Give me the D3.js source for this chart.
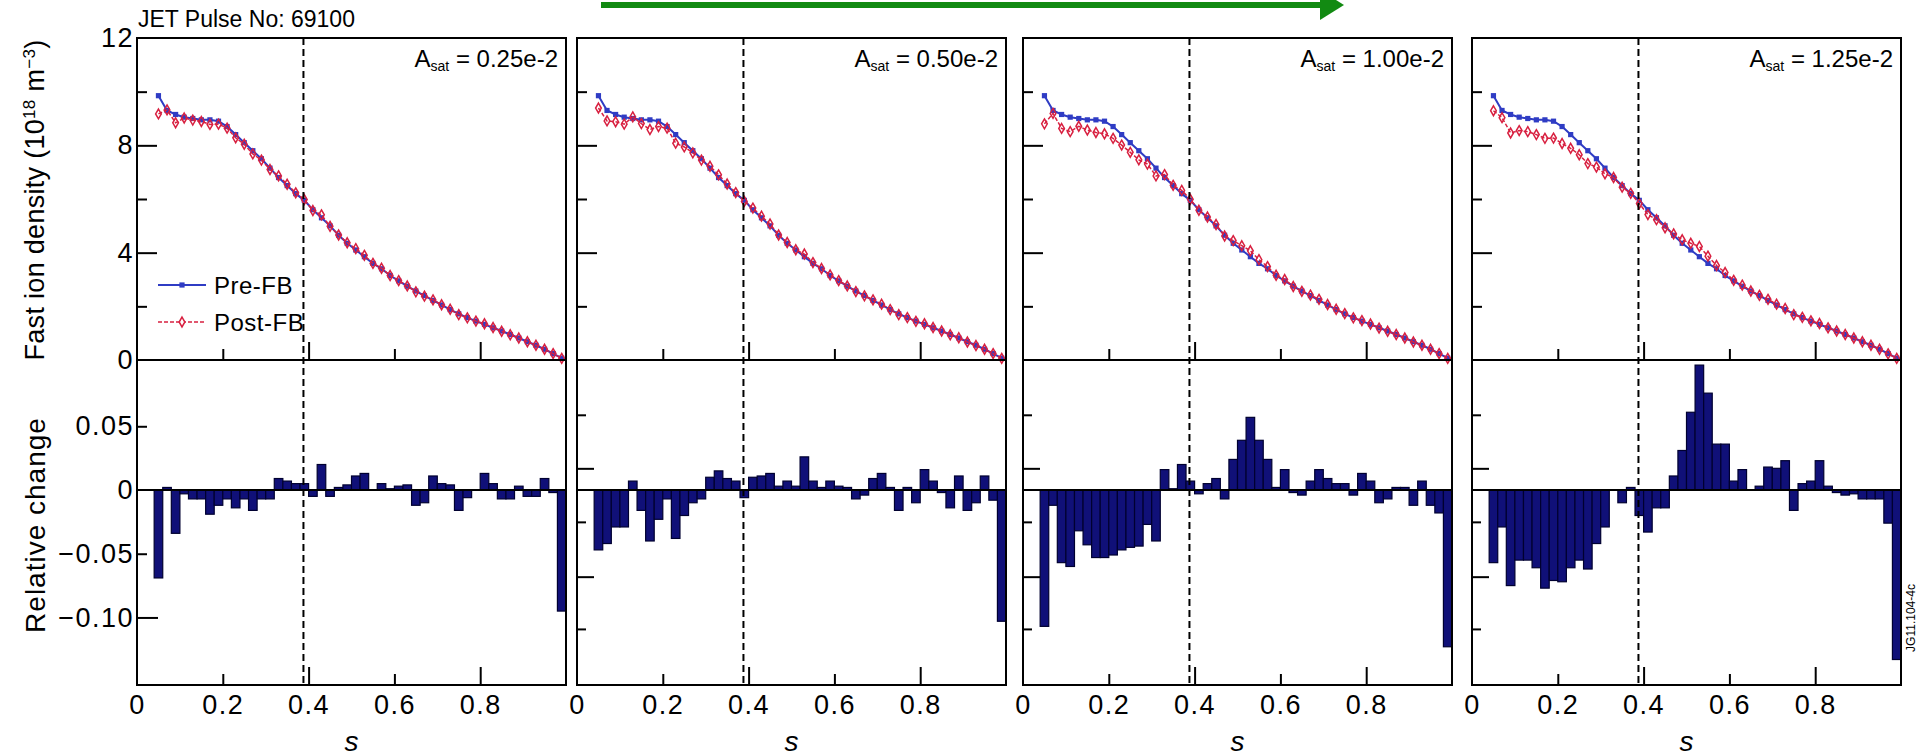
<!DOCTYPE html>
<html>
<head>
<meta charset="utf-8">
<script src="https://cdn.jsdelivr.net/npm/d3@7"></script>
<style>
  body { margin: 0; background: #fff; }
  svg text { font-family: "Liberation Sans", Arial, sans-serif; fill: #000; }
</style>
</head>
<body>
<div id="container"></div>
<script>
/* s grid: centres of the 0.02 wide bins */
const sValues = [0.05, 0.07, 0.09, 0.11, 0.13, 0.15, 0.17, 0.19, 0.21, 0.23, 0.25, 0.27, 0.29, 0.31, 0.33, 0.35,
  0.37, 0.39, 0.41, 0.43, 0.45, 0.47, 0.49, 0.51, 0.53, 0.55, 0.57, 0.59, 0.61, 0.63, 0.65, 0.67,
  0.69, 0.71, 0.73, 0.75, 0.77, 0.79, 0.81, 0.83, 0.85, 0.87, 0.89, 0.91, 0.93, 0.95, 0.97, 0.99];
const binWidth = 0.02;

/* labels of the four panels */
const aSatLabels = ["0.25e-2", "0.50e-2", "1.00e-2", "1.25e-2"];

/* fast ion density before the fishbone (10^18 m^-3), same in all panels */
const preFB = [9.85, 9.3, 9.15, 9.05, 9.0, 8.95, 8.95, 8.9, 8.7, 8.4, 8.1, 7.8, 7.5, 7.15, 6.8, 6.5,
  6.2, 5.95, 5.6, 5.3, 5.0, 4.65, 4.35, 4.1, 3.85, 3.6, 3.4, 3.15, 2.95, 2.75, 2.57, 2.4,
  2.22, 2.05, 1.88, 1.72, 1.58, 1.45, 1.33, 1.2, 1.08, 0.95, 0.82, 0.68, 0.55, 0.4, 0.24, 0.07];

/* fast ion density after the fishbone, one list per panel */
const postFB1 = [9.17, 9.32, 8.84, 9.02, 8.94, 8.89, 8.78, 8.79, 8.64, 8.28, 8.04, 7.68, 7.45, 7.10, 6.86, 6.55,
  6.23, 5.98, 5.57, 5.41, 4.98, 4.66, 4.37, 4.15, 3.90, 3.60, 3.42, 3.15, 2.96, 2.76, 2.54, 2.38,
  2.24, 2.06, 1.89, 1.69, 1.57, 1.45, 1.35, 1.21, 1.07, 0.94, 0.82, 0.68, 0.55, 0.40, 0.24, 0.06];
const postFB2 = [9.39, 8.91, 8.88, 8.79, 9.06, 8.81, 8.59, 8.70, 8.64, 8.08, 7.94, 7.72, 7.45, 7.22, 6.90, 6.56,
  6.24, 5.91, 5.66, 5.36, 5.07, 4.66, 4.38, 4.11, 3.95, 3.63, 3.41, 3.17, 2.96, 2.76, 2.55, 2.39,
  2.24, 2.08, 1.88, 1.69, 1.58, 1.44, 1.35, 1.21, 1.08, 0.94, 0.83, 0.67, 0.54, 0.40, 0.24, 0.06];
const postFB3 = [8.80, 9.19, 8.63, 8.51, 8.71, 8.57, 8.48, 8.43, 8.26, 8.01, 7.74, 7.46, 7.30, 6.86, 6.91, 6.51,
  6.32, 5.99, 5.58, 5.33, 5.05, 4.62, 4.45, 4.26, 4.07, 3.74, 3.48, 3.16, 3.00, 2.74, 2.56, 2.42,
  2.26, 2.07, 1.89, 1.73, 1.57, 1.47, 1.34, 1.19, 1.07, 0.95, 0.82, 0.67, 0.55, 0.40, 0.24, 0.06];
const postFB4 = [9.29, 9.03, 8.46, 8.55, 8.51, 8.40, 8.26, 8.27, 8.07, 7.89, 7.65, 7.32, 7.19, 6.94, 6.80, 6.44,
  6.21, 5.83, 5.42, 5.23, 4.93, 4.70, 4.48, 4.35, 4.23, 3.87, 3.52, 3.26, 2.97, 2.79, 2.57, 2.41,
  2.26, 2.08, 1.92, 1.69, 1.59, 1.46, 1.36, 1.20, 1.08, 0.95, 0.82, 0.68, 0.55, 0.40, 0.23, 0.06];

/* relative change, one list per panel */
const rel1 = [-0.069, 0.002, -0.034, -0.003, -0.007, -0.007, -0.019, -0.012, -0.007, -0.014, -0.007, -0.016,
  -0.007, -0.007, 0.009, 0.007, 0.005, 0.005, -0.005, 0.020, -0.005, 0.002, 0.004, 0.011,
  0.013, 0.000, 0.005, 0.001, 0.003, 0.004, -0.012, -0.010, 0.011, 0.005, 0.004, -0.016,
  -0.006, 0.000, 0.013, 0.005, -0.007, -0.007, 0.003, -0.005, -0.005, 0.009, -0.002, -0.095];
const rel2 = [-0.047, -0.042, -0.029, -0.029, 0.007, -0.016, -0.040, -0.023, -0.007, -0.038, -0.020, -0.010,
  -0.007, 0.010, 0.015, 0.009, 0.007, -0.006, 0.010, 0.011, 0.013, 0.003, 0.007, 0.003,
  0.026, 0.007, 0.002, 0.007, 0.003, 0.002, -0.007, -0.004, 0.009, 0.013, 0.002, -0.016,
  0.002, -0.010, 0.016, 0.007, -0.002, -0.014, 0.011, -0.016, -0.010, 0.011, -0.008, -0.103];
const rel3 = [-0.107, -0.012, -0.057, -0.060, -0.032, -0.043, -0.053, -0.053, -0.051, -0.047, -0.045, -0.044,
  -0.027, -0.040, 0.016, 0.001, 0.020, 0.007, -0.003, 0.005, 0.009, -0.007, 0.024, 0.039,
  0.057, 0.039, 0.024, 0.002, 0.016, -0.002, -0.004, 0.007, 0.016, 0.009, 0.005, 0.005,
  -0.004, 0.013, 0.007, -0.010, -0.007, 0.002, 0.002, -0.012, 0.007, -0.012, -0.018, -0.123];
const rel4 = [-0.057, -0.029, -0.075, -0.055, -0.055, -0.061, -0.077, -0.071, -0.072, -0.061, -0.055, -0.062,
  -0.042, -0.029, 0.000, -0.010, 0.002, -0.020, -0.033, -0.014, -0.014, 0.011, 0.031, 0.061,
  0.098, 0.076, 0.036, 0.036, 0.007, 0.016, 0.000, 0.003, 0.018, 0.017, 0.023, -0.016,
  0.005, 0.007, 0.023, 0.003, -0.002, -0.004, -0.003, -0.007, -0.007, -0.007, -0.026, -0.133];

/* position of the q=1 surface (dashed line) */
const sQ1 = 0.388;

/* tick values */
const xLabelTicks = [0, 0.2, 0.4, 0.6, 0.8];
const xMajorTicks = [0.4, 0.8];
const xMinorTicks = [0.2, 0.6];
const densLabelTicks = [12, 8, 4, 0];
const densMajorTicks = [8, 4];
const densMinorTicks = [10, 6, 2];
const relLabelTicks = [0.05, 0, -0.05, -0.10];
const relMajorTicks = [-0.10];
const relMinorTicks = [0.05, -0.05];
/* panels 2-4 carry their own (shifted) tick marks on the lower axis */
const relInnerMajorTicks = [0.017, -0.068];
const relInnerMinorTicks = [0.059, -0.025, -0.109];

const panels = aSatLabels.map((lab, i) => ({
  label: lab,
  post: [postFB1, postFB2, postFB3, postFB4][i],
  rel: [rel1, rel2, rel3, rel4][i]
}));

/* Mise en page */
const W = 1927, H = 756;
const panelLeft = [137, 577, 1023, 1472], panelWidth = 429;
const plotTop = 38, plotMid = 360, plotBottom = 685;
const preColor = "#2f3cc4", postColor = "#d82040", barColor = "#101078";

const svg = d3.select("#container").append("svg")
  .attr("width", W)
  .attr("height", H);

const yTop = d3.scaleLinear().domain([0, 12]).range([plotMid, plotTop]);
const yBot = d3.scaleLinear().domain([-0.153, 0.102]).range([plotBottom, plotMid]);

function cleanAxis(g) {
  g.select(".domain").remove();
  g.selectAll(".tick line").attr("stroke", "#000").attr("stroke-width", 2);
  g.selectAll(".tick text")
    .style("font-family", "'Liberation Sans', Arial, sans-serif")
    .style("font-size", "27px")
    .style("letter-spacing", "1.5px")
    .attr("fill", "#000");
}

panels.forEach(function(p, i) {
  const L = panelLeft[i];
  const x = d3.scaleLinear().domain([0, 1]).range([L, L + panelWidth]);
  const g = svg.append("g");
  const rows = sValues.map((s, j) => ({ s: s, pre: preFB[j], post: p.post[j], rel: p.rel[j] }));

  /* bars of relative change */
  g.append("g").selectAll("rect")
    .data(rows)
    .join("rect")
      .attr("x", d => x(d.s - binWidth / 2))
      .attr("width", d => x(d.s + binWidth / 2) - x(d.s - binWidth / 2))
      .attr("y", d => yBot(Math.max(0, d.rel)))
      .attr("height", d => Math.abs(yBot(d.rel) - yBot(0)))
      .attr("fill", barColor)
      .attr("stroke", "#000030")
      .attr("stroke-width", 1.2);

  g.append("line")
    .attr("x1", x(0)).attr("x2", x(1))
    .attr("y1", yBot(0)).attr("y2", yBot(0))
    .attr("stroke", "#000").attr("stroke-width", 2);

  /* density profiles */
  const linePre = d3.line().x(d => x(d.s)).y(d => yTop(d.pre));
  const linePost = d3.line().x(d => x(d.s)).y(d => yTop(d.post));

  g.append("path").datum(rows)
    .attr("d", linePre)
    .attr("fill", "none").attr("stroke", preColor).attr("stroke-width", 2);
  g.append("g").selectAll("rect")
    .data(rows)
    .join("rect")
      .attr("x", d => x(d.s) - 2.6).attr("y", d => yTop(d.pre) - 2.6)
      .attr("width", 5.2).attr("height", 5.2)
      .attr("fill", preColor);

  g.append("path").datum(rows)
    .attr("d", linePost)
    .attr("fill", "none").attr("stroke", postColor).attr("stroke-width", 1.5)
    .attr("stroke-dasharray", "4,2");
  g.append("g").selectAll("path")
    .data(rows)
    .join("path")
      .attr("transform", d => "translate(" + x(d.s) + "," + yTop(d.post) + ")")
      .attr("d", d3.symbol(d3.symbolDiamond, 28))
      .attr("fill", "none").attr("stroke", postColor).attr("stroke-width", 1.5);

  /* dashed line */
  g.append("line")
    .attr("x1", x(sQ1)).attr("x2", x(sQ1))
    .attr("y1", plotTop).attr("y2", plotBottom)
    .attr("stroke", "#000").attr("stroke-width", 2)
    .attr("stroke-dasharray", "7,4");

  /* frames */
  g.append("rect")
    .attr("x", x(0)).attr("y", plotTop)
    .attr("width", x(1) - x(0)).attr("height", plotMid - plotTop)
    .attr("fill", "none").attr("stroke", "#000").attr("stroke-width", 2);
  g.append("rect")
    .attr("x", x(0)).attr("y", plotMid)
    .attr("width", x(1) - x(0)).attr("height", plotBottom - plotMid)
    .attr("fill", "none").attr("stroke", "#000").attr("stroke-width", 2);

  /* x ticks, pointing inwards, on both panels */
  [plotMid, plotBottom].forEach(function(yy) {
    g.append("g").attr("transform", "translate(0," + yy + ")")
      .call(d3.axisBottom(x).tickValues(xMajorTicks).tickSize(-18).tickFormat(""))
      .call(cleanAxis);
    g.append("g").attr("transform", "translate(0," + yy + ")")
      .call(d3.axisBottom(x).tickValues(xMinorTicks).tickSize(-11).tickFormat(""))
      .call(cleanAxis);
  });
  g.append("g").attr("transform", "translate(0," + plotBottom + ")")
    .call(d3.axisBottom(x).tickValues(xLabelTicks).tickSize(0).tickPadding(10)
      .tickFormat(d => d === 0 ? "0" : d3.format(".1f")(d)))
    .call(cleanAxis);

  /* y ticks */
  g.append("g").attr("transform", "translate(" + L + ",0)")
    .call(d3.axisLeft(yTop).tickValues(densMajorTicks).tickSize(-20).tickFormat(""))
    .call(cleanAxis);
  g.append("g").attr("transform", "translate(" + L + ",0)")
    .call(d3.axisLeft(yTop).tickValues(densMinorTicks).tickSize(-10).tickFormat(""))
    .call(cleanAxis);

  if (i === 0) {
    g.append("g").attr("transform", "translate(" + L + ",0)")
      .call(d3.axisLeft(yBot).tickValues(relMajorTicks).tickSize(-21).tickFormat(""))
      .call(cleanAxis);
    g.append("g").attr("transform", "translate(" + L + ",0)")
      .call(d3.axisLeft(yBot).tickValues(relMinorTicks).tickSize(-10).tickFormat(""))
      .call(cleanAxis);
    g.append("g").attr("transform", "translate(" + L + ",0)")
      .call(d3.axisLeft(yTop).tickValues(densLabelTicks).tickSize(0).tickPadding(3)
        .tickFormat(d3.format("d")))
      .call(cleanAxis);
    g.append("g").attr("transform", "translate(" + L + ",0)")
      .call(d3.axisLeft(yBot).tickValues(relLabelTicks).tickSize(0).tickPadding(3)
        .tickFormat(d => d === 0 ? "0" : d3.format(".2f")(d)))
      .call(cleanAxis);
  } else {
    g.append("g").attr("transform", "translate(" + L + ",0)")
      .call(d3.axisLeft(yBot).tickValues(relInnerMajorTicks).tickSize(-17).tickFormat(""))
      .call(cleanAxis);
    g.append("g").attr("transform", "translate(" + L + ",0)")
      .call(d3.axisLeft(yBot).tickValues(relInnerMinorTicks).tickSize(-9).tickFormat(""))
      .call(cleanAxis);
  }

  /* A_sat label */
  const t = g.append("text")
    .attr("x", x(1) - 8).attr("y", 67)
    .attr("text-anchor", "end")
    .style("font-size", "24px");
  t.append("tspan").text("A");
  t.append("tspan").attr("baseline-shift", "-25%").style("font-size", "14px").text("sat");
  t.append("tspan").text(" = " + p.label);

  /* x label */
  g.append("text")
    .attr("x", x(0.5)).attr("y", 751)
    .attr("text-anchor", "middle")
    .style("font-size", "28px")
    .style("font-style", "italic")
    .text("s");
});

/* legend */
const legend = svg.append("g");
const lx = d3.scaleLinear().domain([0, 1]).range([158, 206]);
legend.append("line")
  .attr("x1", lx(0)).attr("x2", lx(1)).attr("y1", 285).attr("y2", 285)
  .attr("stroke", preColor).attr("stroke-width", 2);
legend.append("rect")
  .attr("x", lx(0.5) - 2.6).attr("y", 285 - 2.6).attr("width", 5.2).attr("height", 5.2)
  .attr("fill", preColor);
legend.append("text")
  .attr("x", 214).attr("y", 294)
  .style("font-size", "24px").style("letter-spacing", "0.5px")
  .text("Pre-FB");
legend.append("line")
  .attr("x1", lx(0)).attr("x2", lx(1)).attr("y1", 322).attr("y2", 322)
  .attr("stroke", postColor).attr("stroke-width", 1.5).attr("stroke-dasharray", "4,2");
legend.append("path")
  .attr("transform", "translate(" + lx(0.5) + ",322)")
  .attr("d", d3.symbol(d3.symbolDiamond, 28))
  .attr("fill", "#fff").attr("stroke", postColor).attr("stroke-width", 1.5);
legend.append("text")
  .attr("x", 214).attr("y", 331)
  .style("font-size", "24px").style("letter-spacing", "0.5px")
  .text("Post-FB");

/* titles */
svg.append("text")
  .attr("x", 138).attr("y", 27)
  .style("font-size", "23px")
  .text("JET Pulse No: 69100");

const yt = svg.append("text")
  .attr("transform", "translate(44,200) rotate(-90)")
  .attr("text-anchor", "middle")
  .style("font-size", "27px").style("letter-spacing", "0.3px");
yt.append("tspan").text("Fast ion density (10");
yt.append("tspan").attr("baseline-shift", "super").style("font-size", "17px").text("18");
yt.append("tspan").text(" m");
yt.append("tspan").attr("baseline-shift", "super").style("font-size", "17px").text("\u22123");
yt.append("tspan").text(")");

svg.append("text")
  .attr("transform", "translate(45,525) rotate(-90)")
  .attr("text-anchor", "middle")
  .style("font-size", "28px").style("letter-spacing", "1px")
  .text("Relative change");

svg.append("text")
  .attr("transform", "translate(1915,618) rotate(-90)")
  .attr("text-anchor", "middle")
  .style("font-size", "12px")
  .text("JG11.104-4c");

/* green arrow at the top */
svg.append("line")
  .attr("x1", 601).attr("x2", 1324).attr("y1", 5).attr("y2", 5)
  .attr("stroke", "#128a12").attr("stroke-width", 6);
svg.append("path")
  .attr("d", "M1320,-10 L1344,5 L1320,20 Z")
  .attr("fill", "#128a12");
</script>
</body>
</html>
